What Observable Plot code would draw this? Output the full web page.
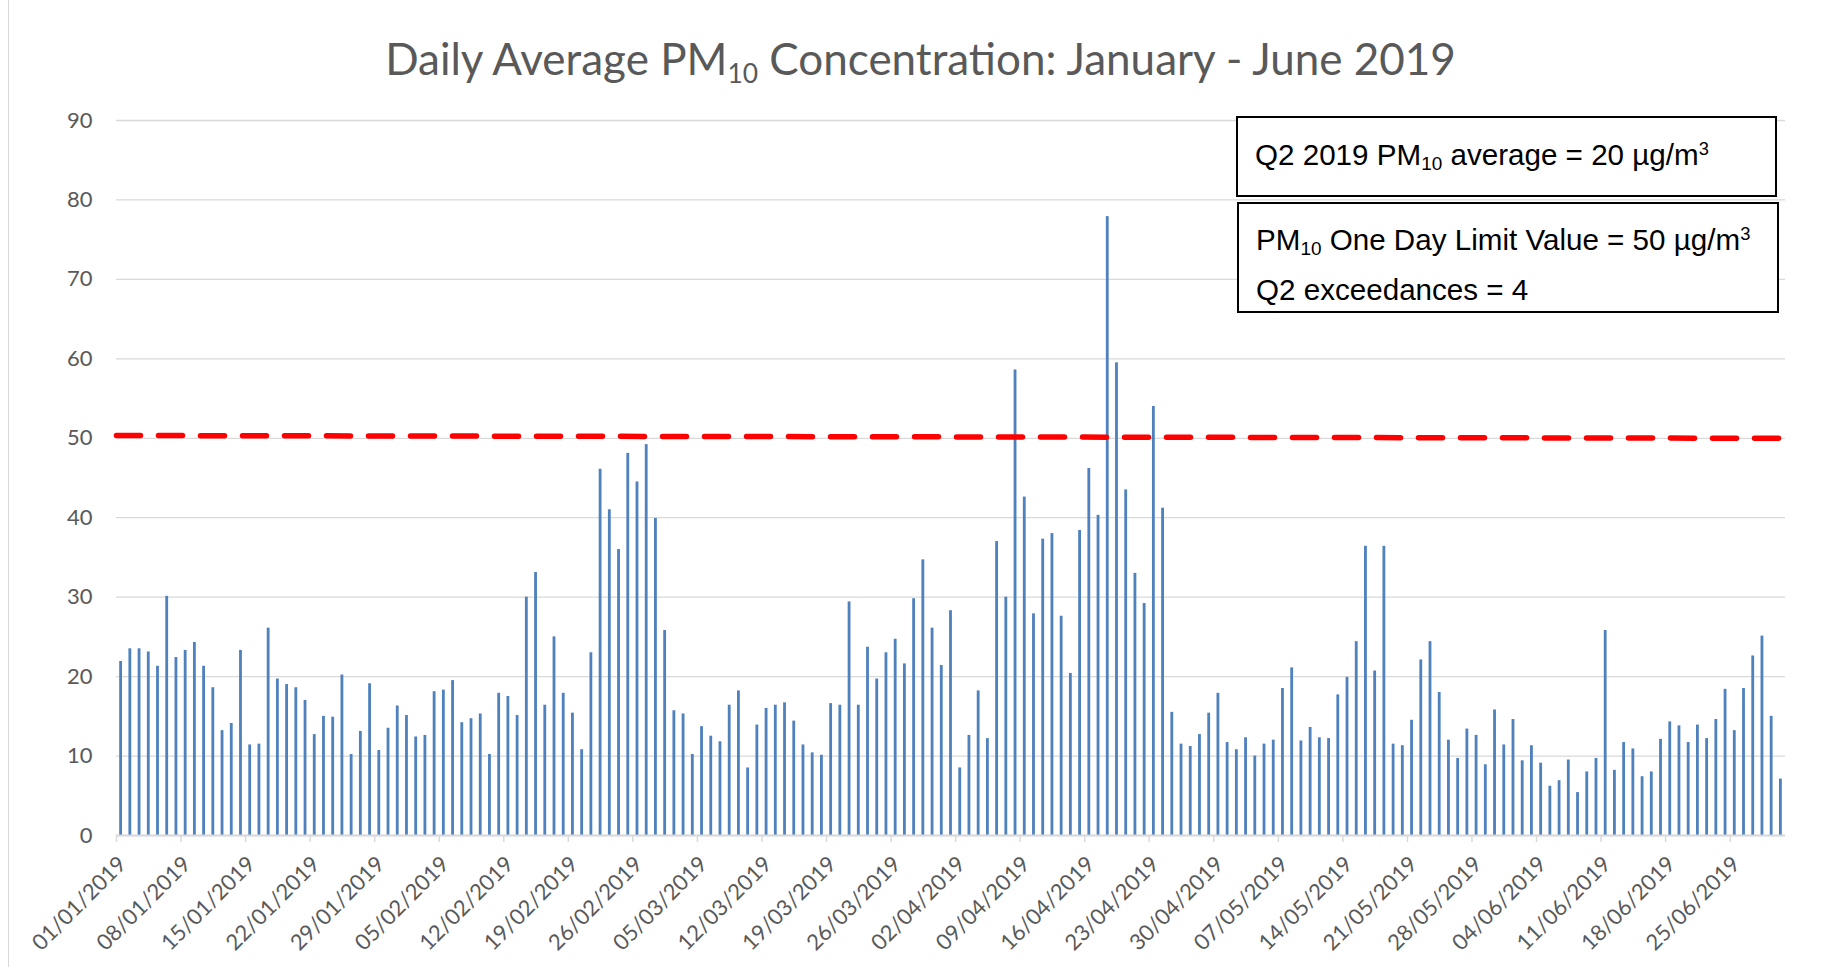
<!DOCTYPE html>
<html><head><meta charset="utf-8">
<script src="https://cdn.jsdelivr.net/npm/d3@7"></script>
<script src="https://cdn.jsdelivr.net/npm/@observablehq/plot@0.6"></script>
<style>
html,body{margin:0;padding:0;background:#fff;}
#chart{position:relative;width:1821px;height:967px;overflow:hidden;background:#fff;}
#frame{position:absolute;left:8px;top:0;width:1px;height:967px;background:#d9d9d9;}
#title{position:absolute;left:14px;width:1813px;top:32px;text-align:center;font-family:Lato,sans-serif;font-size:44px;line-height:normal;color:#595959;white-space:nowrap;}
#title sub{font-size:0.6em;vertical-align:-0.3em;line-height:0;}
.box{position:absolute;border:2px solid #000;box-sizing:border-box;font-family:"Liberation Sans",Arial,sans-serif;font-size:29.6px;color:#000;padding-left:17px;background:#fff;white-space:nowrap;}
.box div{line-height:50px;height:50px;}
.box sub{font-size:0.64em;vertical-align:-0.28em;line-height:0;}
.box sup{font-size:0.62em;vertical-align:0.55em;line-height:0;}
#box1{left:1236px;top:116px;width:541px;height:81px;padding-top:12px;}
#box2{left:1237px;top:202px;width:542px;height:111px;padding-top:11px;}
#plot{position:absolute;left:0;top:100px;}
</style></head>
<body>
<div id="chart">
  <div id="frame"></div>
  <div id="title">Daily Average PM<sub>10</sub> Concentration: January - June 2019</div>
  <div id="plot"></div>
  <div class="box" id="box1"><div>Q2 2019 PM<sub>10</sub> average = 20 µg/m<sup>3</sup></div></div>
  <div class="box" id="box2"><div>PM<sub>10</sub> One Day Limit Value = 50 µg/m<sup>3</sup></div><div>Q2 exceedances = 4</div></div>
</div>
<script>
// Daily average PM10 (µg/m³), 01/01/2019 – 30/06/2019
const startDate = "2019-01-01";
const endDate = "2019-07-01";
const pm10 = [
  21.9, 23.5, 23.5, 23.1, 21.3, 30.1, 22.4, 23.3, 24.3, 21.3, 18.6, 13.2, 14.1, 23.3, 11.4, 11.5,
  26.1, 19.7, 19.0, 18.6, 17.0, 12.7, 15.0, 14.9, 20.2, 10.2, 13.1, 19.1, 10.7, 13.5, 16.3,
  15.1, 12.4, 12.6, 18.1, 18.3, 19.5, 14.2, 14.7, 15.3, 10.2, 17.9, 17.5, 15.1, 30.0, 33.1,
  16.4, 25.0, 17.9, 15.4, 10.8, 23.0, 46.1, 41.0, 36.0, 48.1, 44.5, 49.2, 39.9,
  25.8, 15.7, 15.3, 10.2, 13.7, 12.5, 11.8, 16.4, 18.2, 8.5, 13.9, 16.0, 16.4, 16.7, 14.4,
  11.4, 10.4, 10.1, 16.6, 16.4, 29.4, 16.4, 23.7, 19.7, 23.0, 24.7, 21.6, 29.8, 34.7, 26.1, 21.4,
  28.3, 8.5, 12.6, 18.2, 12.2, 37.0, 30.0, 58.6, 42.6, 27.9, 37.3, 38.0, 27.6, 20.4, 38.4,
  46.2, 40.3, 77.9, 59.5, 43.5, 33.0, 29.2, 54.0, 41.2, 15.5, 11.5, 11.2, 12.7, 15.4,
  17.9, 11.7, 10.8, 12.3, 10.0, 11.5, 12.0, 18.5, 21.1, 11.9, 13.6, 12.3, 12.2, 17.7, 19.9,
  24.4, 36.4, 20.7, 36.4, 11.5, 11.3, 14.5, 22.1, 24.4, 18.0, 12.0, 9.7, 13.4, 12.6, 8.9,
  15.8, 11.4, 14.6, 9.4, 11.3, 9.1, 6.2, 6.9, 9.5, 5.4, 8.0, 9.7, 25.8, 8.2, 11.7, 10.9,
  7.4, 8.0, 12.1, 14.3, 13.8, 11.7, 13.9, 12.2, 14.6, 18.4, 13.2, 18.5, 22.6, 25.1, 15.0, 7.1
];
const yTicks = [0, 10, 20, 30, 40, 50, 60, 70, 80, 90];
const xTickLabels = [
  "01/01/2019", "08/01/2019", "15/01/2019", "22/01/2019", "29/01/2019", "05/02/2019", "12/02/2019",
  "19/02/2019", "26/02/2019", "05/03/2019", "12/03/2019", "19/03/2019", "26/03/2019", "02/04/2019",
  "09/04/2019", "16/04/2019", "23/04/2019", "30/04/2019", "07/05/2019", "14/05/2019", "21/05/2019",
  "28/05/2019", "04/06/2019", "11/06/2019", "18/06/2019", "25/06/2019"
];
const limitValue = 50;
const limitLineValues = [50.35, 50.0]; // drawn limit line, as it appears (start, end)

const parseLabel = d3.utcParse("%d/%m/%Y");
const start = d3.utcParse("%Y-%m-%d")(startDate);
const end = d3.utcParse("%Y-%m-%d")(endDate);
const data = pm10.map((v, i) => ({date: d3.utcDay.offset(start, i), value: v}));
const xTicks = xTickLabels.map(parseLabel);
const limitLine = [{date: start, value: limitLineValues[0]}, {date: end, value: limitLineValues[1]}];

const chart = Plot.plot({
  width: 1821,
  height: 867,
  marginLeft: 116,
  marginRight: 36,
  marginTop: 20,
  marginBottom: 132,
  style: {fontFamily: "Lato, sans-serif", fontSize: "22px", color: "#595959", background: "transparent", overflow: "visible"},
  x: {type: "utc", domain: [start, end]},
  y: {domain: [0, 90]},
  marks: [
    Plot.gridY(yTicks, {stroke: "#d9d9d9", strokeOpacity: 1, strokeWidth: 1.3}),
    Plot.rectY(data, {x1: "date", x2: d => d3.utcDay.offset(d.date, 1), y: "value", fill: "#4F81BD", insetLeft: 3.2, insetRight: 3.2}),
    Plot.ruleY([0], {stroke: "#d9d9d9", strokeWidth: 2}),
    Plot.line(limitLine, {x: "date", y: "value", stroke: "#ff0000", strokeWidth: 5.5, strokeDasharray: "24,18"}),
    Plot.axisY(yTicks, {tickSize: 0, tickPadding: 24, fill: "#595959", fontSize: 22, label: null}),
    Plot.axisX(xTicks, {tickFormat: () => "", tickSize: 7, stroke: "#d9d9d9", strokeWidth: 1.5, label: null}),
    Plot.axisX(xTicks, {tickFormat: d3.utcFormat("%d/%m/%Y"), tickRotate: -45, tickSize: 0, tickPadding: 25, dx: 6, fill: "#595959", fontSize: 22, label: null})
  ]
});
document.getElementById("plot").appendChild(chart);
</script>
</body></html>
